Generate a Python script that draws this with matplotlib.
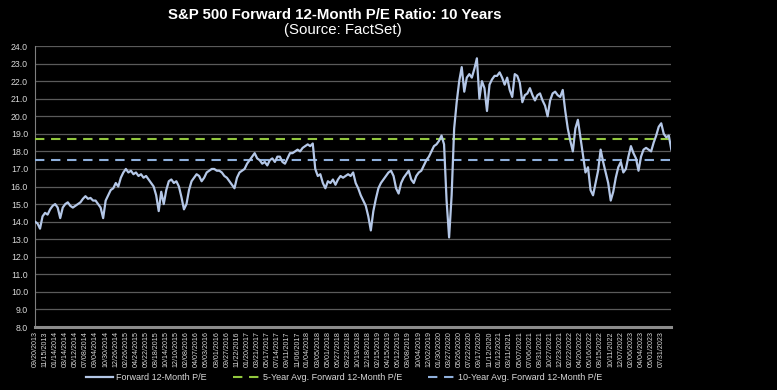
import matplotlib
matplotlib.use("Agg")
from matplotlib import pyplot as plt
import numpy as np

plt.rcParams['font.family'] = ['Liberation Sans', 'DejaVu Sans']

# forward 12-month P/E, one value every 10 trading days
pe = [14.0, 13.9, 13.6, 14.3, 14.5, 14.4, 14.7, 14.9, 15.0, 14.8,
      14.2, 14.8, 15.0, 15.1, 14.9, 14.8, 14.9, 15.0, 15.1, 15.3,
      15.45, 15.3, 15.35, 15.2, 15.2, 15.0, 14.8, 14.2, 15.2, 15.5,
      15.8, 15.9, 16.2, 16.0, 16.5, 16.8, 17.0, 16.8, 16.9, 16.7,
      16.8, 16.6, 16.7, 16.5, 16.6, 16.4, 16.2, 16.0, 15.5, 14.6,
      15.7, 15.0, 15.8, 16.3, 16.4, 16.2, 16.3, 16.0, 15.4, 14.7,
      15.0, 15.8, 16.3, 16.5, 16.7, 16.6, 16.3, 16.5, 16.8, 16.9,
      17.0, 17.0, 16.9, 16.9, 16.8, 16.6, 16.5, 16.3, 16.1, 15.9,
      16.5, 16.8, 16.9, 17.0, 17.3, 17.5, 17.7, 17.9, 17.6, 17.5,
      17.3, 17.4, 17.2, 17.5, 17.6, 17.4, 17.7, 17.7, 17.4, 17.3,
      17.6, 17.9, 17.9, 18.0, 18.1, 18.0, 18.2, 18.3, 18.4, 18.3,
      18.45, 17.0, 16.6, 16.7, 16.2, 15.9, 16.3, 16.2, 16.4, 16.1,
      16.4, 16.6, 16.5, 16.6, 16.7, 16.6, 16.8, 16.2, 15.9, 15.5,
      15.2, 14.9, 14.3, 13.5, 14.6, 15.3, 15.9, 16.2, 16.4, 16.6,
      16.8, 16.9, 16.6, 15.9, 15.6, 16.2, 16.5, 16.7, 16.9, 16.4,
      16.2, 16.6, 16.8, 16.9, 17.2, 17.5, 17.7, 18.0, 18.3, 18.4,
      18.6, 18.9, 18.4, 15.2, 13.1, 15.5, 19.3, 20.8, 22.0, 22.8,
      21.4, 22.2, 22.4, 22.2, 22.7, 23.3, 21.0, 22.0, 21.6, 20.3,
      21.8, 22.1, 22.3, 22.3, 22.5, 22.2, 21.8, 22.2, 21.5, 21.1,
      22.4, 22.3, 21.9, 20.8, 21.2, 21.3, 21.6, 21.2, 20.9, 21.2,
      21.3, 20.9, 20.6, 20.0, 20.9, 21.3, 21.4, 21.2, 21.1, 21.5,
      20.3, 19.3, 18.6, 18.0, 19.3, 19.8, 18.8, 17.8, 16.8, 17.1,
      15.8, 15.5, 16.2, 16.9, 18.1, 17.4, 16.8, 16.2, 15.2, 15.7,
      16.5, 17.1, 17.4, 16.8, 17.0, 17.7, 18.3, 17.9, 17.6, 16.9,
      17.7, 18.1, 18.2, 18.1, 18.0, 18.5, 18.9, 19.4, 19.6, 19.0,
      18.8, 18.9, 18.1]

avg_5yr = 18.7
avg_10yr = 17.5

date_labels = [
    "09/20/2013", "11/15/2013", "01/14/2014", "03/14/2014", "05/12/2014",
    "07/08/2014", "09/04/2014", "10/30/2014", "12/26/2014", "02/26/2015",
    "04/24/2015", "06/22/2015", "08/18/2015", "10/14/2015", "12/10/2015",
    "02/08/2016", "04/07/2016", "06/03/2016", "08/01/2016", "09/27/2016",
    "11/22/2016", "01/20/2017", "03/21/2017", "05/17/2017", "07/14/2017",
    "09/11/2017", "11/06/2017", "01/04/2018", "03/05/2018", "05/01/2018",
    "06/27/2018", "08/23/2018", "10/19/2018", "12/18/2018", "02/15/2019",
    "04/15/2019", "06/12/2019", "08/08/2019", "10/04/2019", "12/02/2019",
    "01/30/2020", "03/27/2020", "05/26/2020", "07/22/2020", "09/17/2020",
    "11/12/2020", "01/12/2021", "03/11/2021", "05/07/2021", "07/06/2021",
    "08/31/2021", "10/27/2021", "12/23/2021", "02/22/2022", "04/20/2022",
    "06/16/2022", "08/15/2022", "10/11/2022", "12/07/2022", "02/06/2023",
    "04/04/2023", "06/01/2023", "07/31/2023"]

fg = '#d9d9d9'
fig = plt.figure(figsize=(7.77, 3.90), dpi=100, facecolor='black')
ax = fig.add_axes([0.045, 0.1615, 0.819, 0.7205], facecolor='black')

x = np.arange(len(pe))
ax.plot(x, pe, color='#b4c7e7', lw=1.6, label='Forward 12-Month P/E', zorder=4)
ax.axhline(avg_5yr, color='#92c83e', lw=1.5, dashes=(4.5, 3.2),
           label='5-Year Avg. Forward 12-Month P/E', zorder=3)
ax.axhline(avg_10yr, color='#8fb0dc', lw=1.5, dashes=(4.5, 3.2),
           label='10-Year Avg. Forward 12-Month P/E', zorder=3)

ax.set_xlim(0, len(pe) - 1)
ax.set_ylim(8, 24)
ax.set_yticks(np.arange(8, 24.1, 1))
ax.set_yticklabels([f"{v:.1f}" for v in np.arange(8, 24.1, 1)])
ax.set_xticks(np.arange(0, 4 * len(date_labels), 4))
ax.set_xticklabels(date_labels, rotation=90)
ax.tick_params(axis='y', length=0, pad=5, labelsize=6.3, labelcolor=fg)
ax.tick_params(axis='x', length=0, pad=3, labelsize=5.1, labelcolor=fg)
ax.grid(axis='y', color='#5a5a5a', lw=0.9)
ax.set_axisbelow(True)
for s in ['top', 'right']:
    ax.spines[s].set_visible(False)
ax.spines['left'].set_color('#7f7f7f')
ax.spines['left'].set_linewidth(0.8)
ax.spines['bottom'].set_color('#8c8c8c')
ax.spines['bottom'].set_linewidth(2.2)

fig.text(0.431, 0.962, "S&P 500 Forward 12-Month P/E Ratio: 10 Years",
         color='white', fontsize=10.8, fontweight='bold', ha='center', va='center')
fig.text(0.441, 0.924, "(Source: FactSet)", color='white', fontsize=10.8,
         ha='center', va='center')

fig.legend(loc='center', bbox_to_anchor=(0.443, 0.031), ncol=3, frameon=False,
           fontsize=6.5, labelcolor=fg, handlelength=3.0, columnspacing=2.9,
           handletextpad=0.3)

fig.savefig('out.png', dpi=100, facecolor='black')
